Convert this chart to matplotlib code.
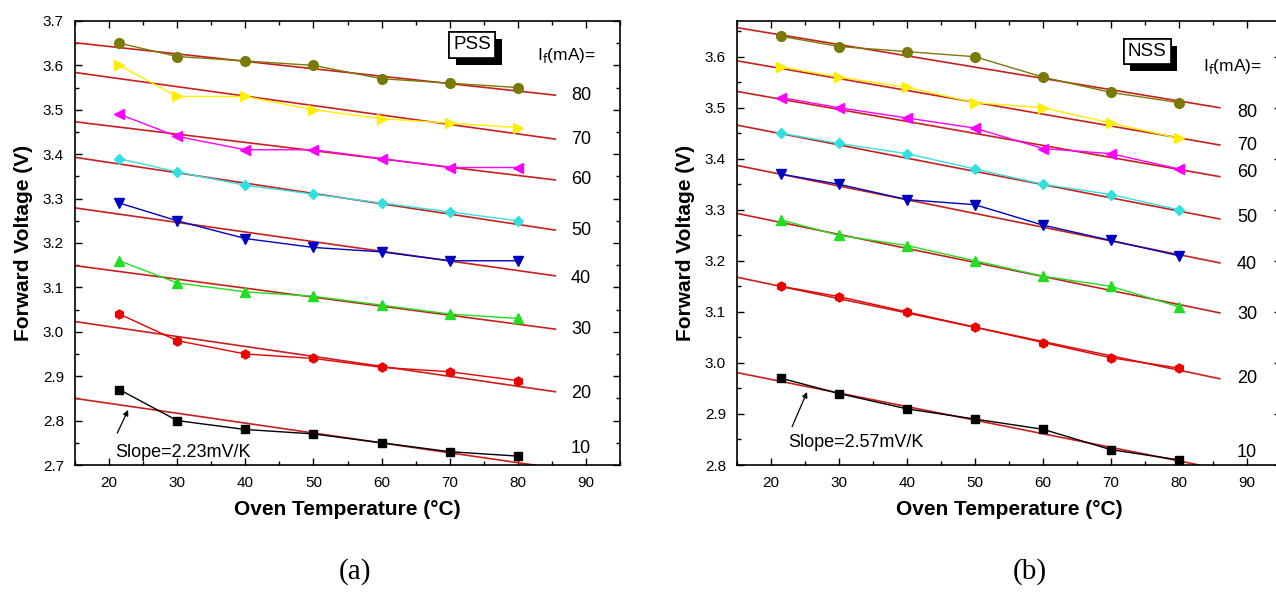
import matplotlib
matplotlib.use("Agg")
import matplotlib.pyplot as plt
import matplotlib.patheffects as pe
from matplotlib.ticker import MultipleLocator, FormatStrFormatter


# ---------------------------------------------------------------------------
# Data
# ---------------------------------------------------------------------------

temps = [21.5, 30, 40, 50, 60, 70, 80]
currents = [80, 70, 60, 50, 40, 30, 20, 10]

# PSS forward voltage, one row per drive current (80 mA ... 10 mA)
pss_vf = [
    [3.65, 3.62, 3.61, 3.60, 3.57, 3.56, 3.55],
    [3.60, 3.53, 3.53, 3.50, 3.48, 3.47, 3.46],
    [3.49, 3.44, 3.41, 3.41, 3.39, 3.37, 3.37],
    [3.39, 3.36, 3.33, 3.31, 3.29, 3.27, 3.25],
    [3.29, 3.25, 3.21, 3.19, 3.18, 3.16, 3.16],
    [3.16, 3.11, 3.09, 3.08, 3.06, 3.04, 3.03],
    [3.04, 2.98, 2.95, 2.94, 2.92, 2.91, 2.89],
    [2.87, 2.80, 2.78, 2.77, 2.75, 2.73, 2.72],
]

# NSS forward voltage
nss_vf = [
    [3.64, 3.62, 3.61, 3.60, 3.56, 3.53, 3.51],
    [3.58, 3.56, 3.54, 3.51, 3.50, 3.47, 3.44],
    [3.52, 3.50, 3.48, 3.46, 3.42, 3.41, 3.38],
    [3.45, 3.43, 3.41, 3.38, 3.35, 3.33, 3.30],
    [3.37, 3.35, 3.32, 3.31, 3.27, 3.24, 3.21],
    [3.28, 3.25, 3.23, 3.20, 3.17, 3.15, 3.11],
    [3.15, 3.13, 3.10, 3.07, 3.04, 3.01, 2.99],
    [2.97, 2.94, 2.91, 2.89, 2.87, 2.83, 2.81],
]

# linear fit lines: start / end values
pss_fit_x = [15, 85.5]
pss_fit_y = [
    [3.651, 3.533], [3.584, 3.434], [3.473, 3.342], [3.393, 3.229],
    [3.279, 3.126], [3.149, 3.006], [3.023, 2.865], [2.850, 2.693],
]
nss_fit_x = [15, 86]
nss_fit_y = [
    [3.657, 3.500], [3.592, 3.427], [3.532, 3.365], [3.466, 3.282],
    [3.387, 3.196], [3.293, 3.098], [3.168, 2.969], [2.981, 2.792],
]

# y position of the current labels on the right side
pss_label_y = [3.533, 3.432, 3.342, 3.229, 3.121, 3.006, 2.860, 2.738]
nss_label_y = [3.490, 3.427, 3.373, 3.284, 3.192, 3.094, 2.970, 2.825]

colors = ["#7a7a0a", "#ffee00", "#ff00ff", "#33e0e0",
          "#0000c0", "#22dd22", "#ee0000", "#000000"]
markers = ["o", ">", "<", "D", "v", "^", "h", "s"]
marker_sizes = [7, 7.5, 7.5, 5.5, 7.5, 7.5, 6.5, 6]
fit_color = "#c8201e"

SANS = ["Liberation Sans", "DejaVu Sans"]
SERIF = ["Liberation Serif", "DejaVu Serif"]

plt.rcParams["font.family"] = SANS


# ---------------------------------------------------------------------------
# Drawing
# ---------------------------------------------------------------------------

def draw_panel(ax, vf, fit_x, fit_y, label_x, label_y, ylim, tag, tag_xy,
               lab_xy, slope_text, slope_xy, arrow_tail, arrow_head):
    for i, row in enumerate(vf):
        ax.plot(fit_x, fit_y[i], "-", color=fit_color, lw=1.2, zorder=2)
        ax.plot(temps, row, "-", color=colors[i], lw=1.0, zorder=3,
                marker=markers[i], ms=marker_sizes[i], mfc=colors[i],
                mec=colors[i])
        ax.text(label_x, label_y[i], str(currents[i]), ha="center",
                va="center", fontsize=13)

    ax.set_xlim(15, 95)
    ax.set_ylim(*ylim)
    ax.xaxis.set_major_locator(MultipleLocator(10))
    ax.xaxis.set_minor_locator(MultipleLocator(5))
    ax.yaxis.set_major_locator(MultipleLocator(0.1))
    ax.yaxis.set_minor_locator(MultipleLocator(0.05))
    ax.yaxis.set_major_formatter(FormatStrFormatter("%.1f"))
    ax.tick_params(which="both", direction="in", top=True, right=True,
                   labelsize=11, width=1.0)
    ax.tick_params(which="major", length=5)
    ax.tick_params(which="minor", length=3)
    ax.tick_params(axis="y", pad=8)
    ax.tick_params(axis="x", pad=8)
    for sp in ax.spines.values():
        sp.set_linewidth(1.2)

    ax.set_xlabel("Oven Temperature (°C)", fontsize=15, fontweight="bold",
                  labelpad=7)
    ax.set_ylabel("Forward Voltage (V)", fontsize=15, fontweight="bold",
                  labelpad=7)

    # sample tag with a drop shadow
    t = ax.text(tag_xy[0], tag_xy[1], tag, ha="center", va="center",
                fontsize=13.5,
                bbox=dict(boxstyle="square,pad=0.22", fc="white",
                          ec="black", lw=1.2))
    t.get_bbox_patch().set_path_effects([
        pe.withSimplePatchShadow(offset=(5, -5), shadow_rgbFace="black",
                                 alpha=1.0),
        pe.Normal(),
    ])

    ax.text(lab_xy[0], lab_xy[1], r"I$_{\rm f}$(mA)=", ha="center",
            va="center", fontsize=12.5)

    ax.text(slope_xy[0], slope_xy[1], slope_text, ha="center", va="center",
            fontsize=13)
    ax.annotate("", xy=arrow_head, xytext=arrow_tail,
                arrowprops=dict(arrowstyle="-|>", color="black", lw=0.9,
                                mutation_scale=8, shrinkA=0, shrinkB=0))


fig = plt.figure(figsize=(12.76, 6.05), dpi=100)
ax_a = fig.add_axes([0.0588, 0.2314, 0.4271, 0.7339])
ax_b = fig.add_axes([0.5776, 0.2314, 0.4263, 0.7339])

draw_panel(ax_a, pss_vf, pss_fit_x, pss_fit_y, 89.3, pss_label_y,
           (2.7, 3.7), "PSS", (73.3, 3.646), (87.2, 3.623),
           "Slope=2.23mV/K", (30.8, 2.729), (21.2, 2.772), (22.8, 2.824))
draw_panel(ax_b, nss_vf, nss_fit_x, nss_fit_y, 90.0, nss_label_y,
           (2.8, 3.67), "NSS", (75.3, 3.610), (87.9, 3.580),
           "Slope=2.57mV/K", (32.5, 2.845), (23.1, 2.875), (25.3, 2.943))

fig.text(355 / 1276, 1 - 572 / 605, "(a)", ha="center", va="center",
         fontsize=21, family=SERIF)
fig.text(1030 / 1276, 1 - 572 / 605, "(b)", ha="center", va="center",
         fontsize=21, family=SERIF)

fig.savefig("out.png", dpi=100)
